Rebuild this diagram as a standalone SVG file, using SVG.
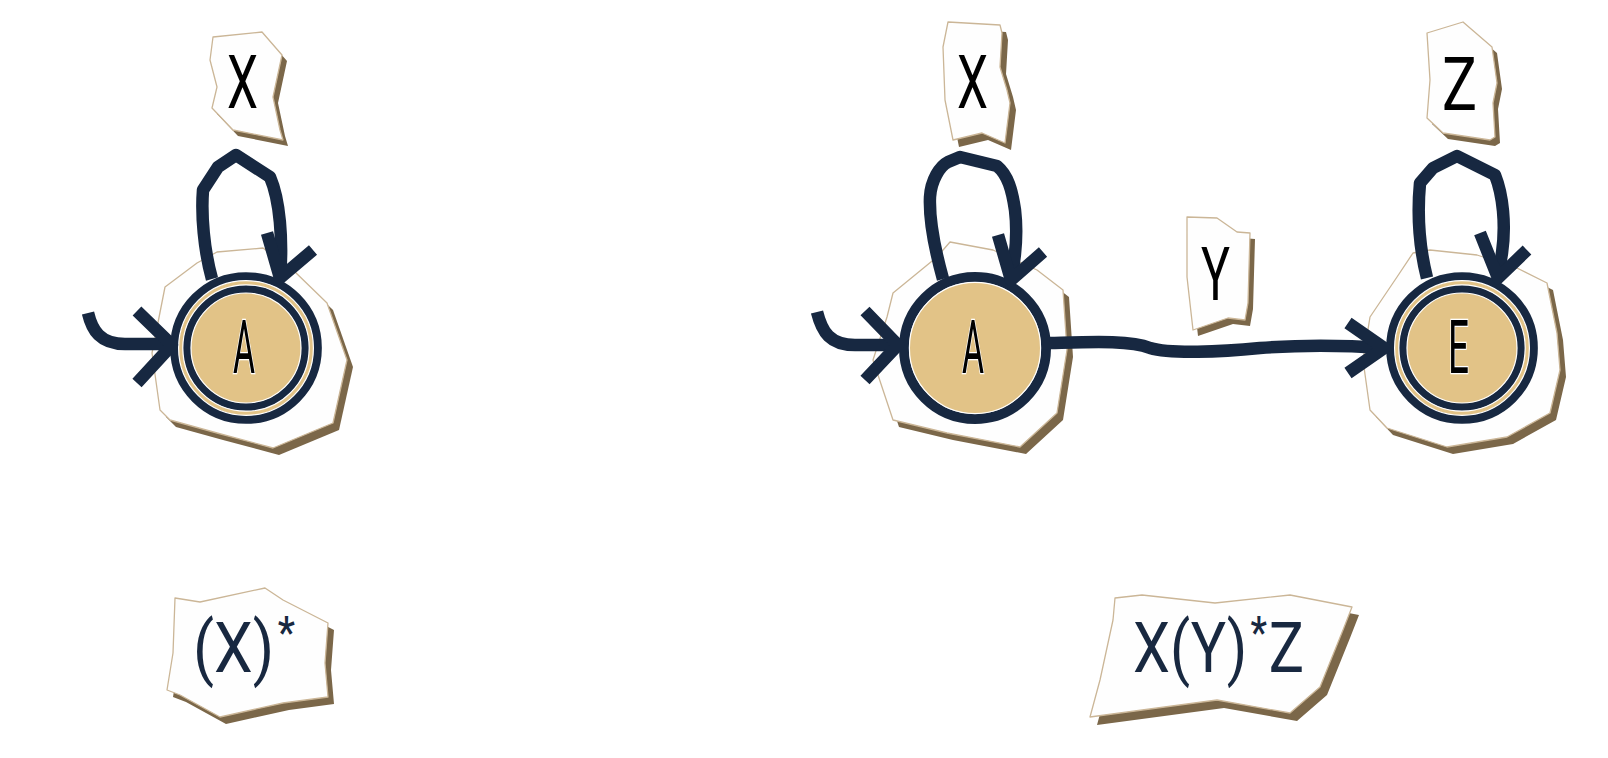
<svg xmlns="http://www.w3.org/2000/svg" xmlns:xlink="http://www.w3.org/1999/xlink" width="1608" height="758" viewBox="0 0 1608 758">
<style>
.shadow{fill:#7b6749}
.paper{fill:#fefefe;stroke:#cbb697;stroke-width:1.3;stroke-linejoin:round}
.edge{fill:none;stroke:#172841;stroke-width:12.5;stroke-linejoin:round;stroke-linecap:butt}
.ring{fill:none;stroke:#172841}
.beige{fill:#e2c387}
.bring{fill:none;stroke:#e2c387}
.wline{fill:none;stroke:#ffffff;stroke-width:1.2}
.lbl{font-family:Roboto,"Liberation Sans",sans-serif;font-weight:400;font-size:74px;fill:#000}
.state{font-family:Roboto,"Liberation Sans",sans-serif;font-weight:400;font-size:74px;fill:#000;stroke:#fff;stroke-width:2.5;paint-order:stroke}
.regex{font-family:Roboto,"Liberation Sans",sans-serif;font-weight:400;font-size:70px;fill:#182840}
.star{font-weight:500;font-size:44px}
</style>
<defs>
<polygon id="blobL" points="217,252 263,248 293,270 327,303 347,360 333,423 273,448 217,433 170,420 160,410 152,353 165,287 197,263"/>
<polygon id="blobM" points="950,242 993,250 1037,270 1063,290 1067,350 1057,413 1020,447 947,433 893,420 873,360 887,317 893,293 937,257"/>
<polygon id="blobE" points="1430,250 1477,255 1517,268 1547,283 1557,333 1560,370 1550,413 1507,437 1447,447 1387,428 1370,410 1363,360 1370,317 1397,277 1413,253"/>
<polygon id="pX1" points="213,37 262,32 282,55 273,97 280,130 283,140 233,130 212,108 217,87 210,60"/>
<polygon id="pX2" points="948,22 1000,25 1002,33 1000,67 1007,90 1010,103 1005,143 982,133 953,140 945,100 943,47"/>
<polygon id="pZ" points="1427,33 1463,22 1492,47 1497,83 1493,103 1495,137 1490,140 1443,133 1427,118 1430,80"/>
<polygon id="pY" points="1187,217 1217,218 1237,232 1250,233 1248,303 1245,320 1228,318 1193,330 1187,277"/>
<polygon id="pR1" points="175,598 200,602 265,588 283,600 328,623 325,663 328,697 283,703 220,717 180,695 167,690 173,653"/>
<polygon id="pR2" points="1115,598 1142,595 1215,603 1290,595 1352,607 1343,630 1320,687 1290,713 1217,700 1090,717 1100,680 1113,620"/>
</defs>

<g id="node-A1">
<use xlink:href="#blobL" class="shadow" transform="translate(6,7)"/>
<use xlink:href="#blobL" class="paper"/>
<circle cx="246" cy="348" r="62" class="beige"/>
<circle cx="246" cy="348" r="65.3" class="bring" stroke-width="4.4"/>
<circle cx="246" cy="348" r="71.6" class="ring" stroke-width="8.5"/>
<circle cx="246" cy="348" r="59.1" class="ring" stroke-width="8"/>
<circle cx="246" cy="348" r="67.4" class="wline"/>
<circle cx="246" cy="348" r="63.2" class="wline"/>
<circle cx="246" cy="348" r="55" class="wline"/>
<text x="233" y="373" class="state" textLength="22" lengthAdjust="spacingAndGlyphs">A</text>
</g>

<g id="node-A2">
<use xlink:href="#blobM" class="shadow" transform="translate(6,7)"/>
<use xlink:href="#blobM" class="paper"/>
<circle cx="975" cy="348" r="66" class="beige"/>
<circle cx="975" cy="348" r="71" class="ring" stroke-width="10"/>
<circle cx="975" cy="348" r="65.6" class="wline"/>
<text x="962" y="373" class="state" textLength="22" lengthAdjust="spacingAndGlyphs">A</text>
</g>

<g id="node-E">
<use xlink:href="#blobE" class="shadow" transform="translate(6,7)"/>
<use xlink:href="#blobE" class="paper"/>
<circle cx="1462" cy="348" r="62" class="beige"/>
<circle cx="1462" cy="348" r="65.3" class="bring" stroke-width="4.4"/>
<circle cx="1462" cy="348" r="71.6" class="ring" stroke-width="8.5"/>
<circle cx="1462" cy="348" r="59.1" class="ring" stroke-width="8"/>
<circle cx="1462" cy="348" r="67.4" class="wline"/>
<circle cx="1462" cy="348" r="63.2" class="wline"/>
<circle cx="1462" cy="348" r="55" class="wline"/>
<text x="1448" y="373" class="state" textLength="21" lengthAdjust="spacingAndGlyphs">E</text>
</g>

<g id="connectors">
<path class="edge" d="M212,279 C204,250 201,215 203,190 L218,167 L236,155 L270,177 C280,200 283,240 280,278"/>
<path class="edge" d="M267,233 L280,278 L313,250"/>
<path class="edge" d="M88,313 C92,330 100,344 125,344 L172,344"/>
<path class="edge" d="M137,311 L172,345 L137,383"/>
<path class="edge" d="M943,279 C935,250 929,220 930,197 C931,180 940,166 948,162 L960,157 L997,166 C1008,175 1012,190 1015,210 C1018,235 1015,260 1011,280"/>
<path class="edge" d="M998,235 L1011,280 L1043,252"/>
<path class="edge" d="M817,312 C822,332 830,345 855,345 L898,345"/>
<path class="edge" d="M865,311 L898,345 L865,380"/>
<path class="edge" d="M1427,278 C1420,250 1417,215 1420,183 L1433,168 L1457,156 L1495,175 C1503,195 1506,225 1502,253 L1498,278"/>
<path class="edge" d="M1480,233 L1498,278 L1527,250"/>
<path class="edge" d="M1050,343 C1090,342 1130,340 1150,348 C1170,354 1220,352 1260,348 C1300,345 1340,345 1384,348"/>
<path class="edge" d="M1348,323 L1384,348 L1348,373"/>
</g>

<g id="label-X1">
<use xlink:href="#pX1" class="shadow" transform="translate(5,6)"/>
<use xlink:href="#pX1" class="paper"/>
<text x="227" y="108" class="lbl" textLength="31" lengthAdjust="spacingAndGlyphs">X</text>
</g>
<g id="label-X2">
<use xlink:href="#pX2" class="shadow" transform="translate(6,7)"/>
<use xlink:href="#pX2" class="paper"/>
<text x="957" y="108" class="lbl" textLength="31" lengthAdjust="spacingAndGlyphs">X</text>
</g>
<g id="label-Z">
<use xlink:href="#pZ" class="shadow" transform="translate(5,6)"/>
<use xlink:href="#pZ" class="paper"/>
<text x="1442" y="110" class="lbl" textLength="35" lengthAdjust="spacingAndGlyphs">Z</text>
</g>
<g id="label-Y">
<use xlink:href="#pY" class="shadow" transform="translate(5,6)"/>
<use xlink:href="#pY" class="paper"/>
<text x="1201" y="300" class="lbl" textLength="29" lengthAdjust="spacingAndGlyphs">Y</text>
</g>
<g id="regex-1">
<use xlink:href="#pR1" class="shadow" transform="translate(6,7)"/>
<use xlink:href="#pR1" class="paper"/>
<text x="193" y="672" class="regex" textLength="102" lengthAdjust="spacingAndGlyphs">(X)<tspan class="star" dx="4" dy="-24">*</tspan></text>
</g>
<g id="regex-2">
<use xlink:href="#pR2" class="shadow" transform="translate(7,8)"/>
<use xlink:href="#pR2" class="paper"/>
<text x="1133" y="672" class="regex" textLength="171" lengthAdjust="spacingAndGlyphs">X(Y)<tspan class="star" dx="4" dy="-24">*</tspan><tspan dx="2" dy="24">Z</tspan></text>
</g>
</svg>
